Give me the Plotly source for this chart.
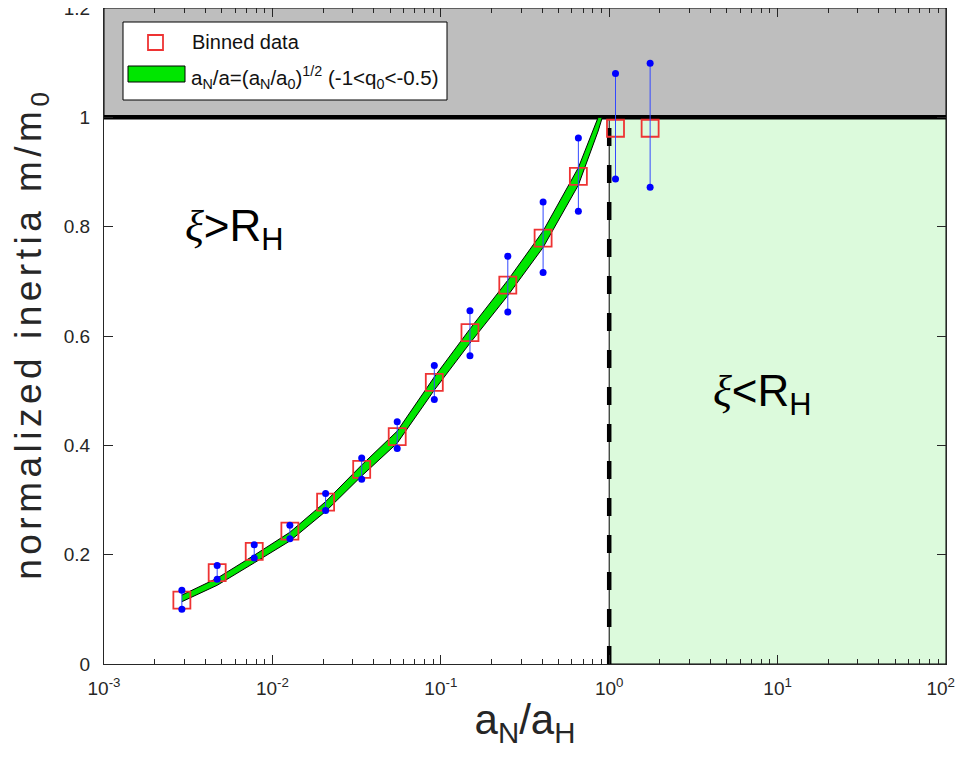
import plotly.graph_objects as go

# ---------------- data ----------------
# binned data (x = a_N/a_H, y = m/m0) with error-bar ends
bin_x = [0.0029, 0.0047, 0.0078, 0.0127, 0.0207, 0.0339, 0.0551, 0.0915,
         0.149, 0.250, 0.405, 0.656, 1.09, 1.75]
bin_y = [0.117, 0.167, 0.206, 0.243, 0.296, 0.356, 0.416, 0.515,
         0.606, 0.693, 0.779, 0.892, 0.980, 0.980]
bin_hi = [0.135, 0.180, 0.218, 0.254, 0.312, 0.377, 0.443, 0.546,
          0.646, 0.746, 0.845, 0.962, 1.080, 1.099]
bin_lo = [0.100, 0.155, 0.194, 0.229, 0.281, 0.338, 0.394, 0.484,
          0.564, 0.644, 0.716, 0.828, 0.887, 0.872]

# model band (-1 < q0 < -0.5)
band_x = [0.0029, 0.0047, 0.0078, 0.0127, 0.0207, 0.0339, 0.0551, 0.0915,
          0.149, 0.250, 0.405, 0.656, 0.86, 0.91]
band_upper = [0.126, 0.157, 0.199, 0.241, 0.297, 0.364, 0.426, 0.525,
              0.613, 0.702, 0.792, 0.908, 1.0, 1.0]
band_lower = [0.114, 0.144, 0.185, 0.225, 0.279, 0.344, 0.404, 0.501,
              0.587, 0.674, 0.762, 0.876, 0.975, 1.0]

# regions
x_min, x_max = 1e-3, 1e2
x_horizon = 1.0
y_horizon = 1.0
y_top = 1.2

x_tickvals = [1e-3, 1e-2, 1e-1, 1e0, 1e1, 1e2]
x_ticktext = ["10<sup>-3</sup>", "10<sup>-2</sup>", "10<sup>-1</sup>",
              "10<sup>0</sup>", "10<sup>1</sup>", "10<sup>2</sup>&nbsp;&nbsp;"]
y_tickvals = [0, 0.2, 0.4, 0.6, 0.8, 1.0, 1.2]
y_ticktext = ["0", "0.2", "0.4", "0.6", "0.8", "1", "1.2"]

FONT = "Liberation Sans, Arial, Helvetica, sans-serif"
RED = "#ee3333"
GREEN = "#00e600"

fig = go.Figure()

# grey region above m/m0 = 1
fig.add_trace(go.Scatter(
    x=[x_min, x_max, x_max, x_min, x_min],
    y=[y_horizon, y_horizon, y_top, y_top, y_horizon],
    mode="lines", fill="toself", fillcolor="#bebebe",
    line=dict(color="black", width=1), hoverinfo="skip"))

# light green region xi < R_H
fig.add_trace(go.Scatter(
    x=[x_horizon, x_max, x_max, x_horizon, x_horizon],
    y=[0, 0, y_horizon, y_horizon, 0],
    mode="lines", fill="toself", fillcolor="#dcfadc",
    line=dict(color="black", width=1), hoverinfo="skip"))

# thick line at m/m0 = 1
fig.add_trace(go.Scatter(
    x=[x_min, x_max], y=[y_horizon, y_horizon], mode="lines",
    line=dict(color="black", width=4.5), hoverinfo="skip"))

# dashed vertical line at a_N/a_H = 1
fig.add_trace(go.Scatter(
    x=[x_horizon, x_horizon], y=[0, y_horizon], mode="lines",
    line=dict(color="black", width=4.5, dash="18px,19px"), hoverinfo="skip"))

# model band
fig.add_trace(go.Scatter(
    x=band_x + band_x[::-1], y=band_upper + band_lower[::-1],
    mode="lines", fill="toself", fillcolor=GREEN,
    line=dict(color="black", width=1), hoverinfo="skip"))

# red open squares
fig.add_trace(go.Scatter(
    x=bin_x, y=bin_y, mode="markers",
    marker=dict(symbol="square-open", size=17, color=RED,
                line=dict(width=1.8, color=RED))))

# error bars
ex, ey = [], []
for xv, lo, hi in zip(bin_x, bin_lo, bin_hi):
    ex += [xv, xv, None]
    ey += [lo, hi, None]
fig.add_trace(go.Scatter(x=ex, y=ey, mode="lines",
                         line=dict(color="#3348ff", width=1), hoverinfo="skip"))
fig.add_trace(go.Scatter(x=bin_x + bin_x, y=bin_lo + bin_hi, mode="markers",
                         marker=dict(size=7, color="#0000ff"), hoverinfo="skip"))

# ---------------- layout ----------------
# page body has an 8px margin; figure is 948x746 placed at (8, 8)
OFF = 8
W, H = 948, 746
L, R, T, B = 96, 10, 0, 90
pw, ph = W - L - R, H - T - B


def px2paper(px, py):
    """reference-screenshot pixel -> paper coords"""
    fx, fy = px - OFF, py - OFF
    return (fx - L) / pw, (H - B - fy) / ph


shapes = []
# manual legend box
x0, y0 = px2paper(123, 22)
x1, y1 = px2paper(447, 100)
shapes.append(dict(type="rect", xref="paper", yref="paper", x0=x0, y0=y1, x1=x1, y1=y0,
                   fillcolor="white", line=dict(color="black", width=1), layer="above"))
x0, y0 = px2paper(148, 35)
x1, y1 = px2paper(163, 50)
shapes.append(dict(type="rect", xref="paper", yref="paper", x0=x0, y0=y1, x1=x1, y1=y0,
                   fillcolor="rgba(0,0,0,0)", line=dict(color=RED, width=1.8), layer="above"))
x0, y0 = px2paper(128, 66)
x1, y1 = px2paper(185, 82)
shapes.append(dict(type="rect", xref="paper", yref="paper", x0=x0, y0=y1, x1=x1, y1=y0,
                   fillcolor=GREEN, line=dict(color="black", width=1), layer="above"))

annotations = []
ax_, ay_ = px2paper(190, 42)
annotations.append(dict(text="Binned data", xref="paper", yref="paper", x=ax_, y=ay_,
                        xanchor="left", yanchor="middle", showarrow=False,
                        font=dict(family=FONT, size=20, color="#111111")))
ax_, ay_ = px2paper(189, 77)
annotations.append(dict(
    text="a<sub>N</sub>/a=(a<sub>N</sub>/a<sub>0</sub>)<sup>1/2</sup> (-1&lt;q<sub>0</sub>&lt;-0.5)",
    xref="paper", yref="paper", x=ax_, y=ay_, xanchor="left", yanchor="middle",
    showarrow=False, font=dict(family=FONT, size=20.5, color="#111111")))

XI = "<span style=\"font-family:'Liberation Serif', 'DejaVu Serif', serif\"><i>ξ</i></span>"
ax_, ay_ = px2paper(234, 229)
annotations.append(dict(text=XI + "&gt;R<sub>H</sub>", xref="paper", yref="paper",
                        x=ax_, y=ay_, xanchor="center", yanchor="middle", showarrow=False,
                        font=dict(family=FONT, size=44, color="black")))
ax_, ay_ = px2paper(762, 394)
annotations.append(dict(text=XI + "&lt;R<sub>H</sub>", xref="paper", yref="paper",
                        x=ax_, y=ay_, xanchor="center", yanchor="middle", showarrow=False,
                        font=dict(family=FONT, size=44, color="black")))

YTITLE = ('<span style="letter-spacing:4.5px">normalized inertia m/m</span>'
          '<sub>0</sub>')

fig.update_layout(
    width=W, height=H, autosize=False,
    margin=dict(l=L, r=R, t=T, b=B, pad=0, autoexpand=False),
    paper_bgcolor="white", plot_bgcolor="white",
    showlegend=False,
    font=dict(family=FONT, size=17, color="#262626"),
    shapes=shapes, annotations=annotations,
    xaxis=dict(
        type="log", range=[-3, 2], automargin=False,
        tickvals=x_tickvals, ticktext=x_ticktext,
        ticks="inside", ticklen=9, tickwidth=1, tickcolor="#262626",
        showline=True, linecolor="#262626", linewidth=1, mirror="allticks",
        showgrid=False, zeroline=False, ticklabeloverflow="allow",
        ticklabelstandoff=7,
        minor=dict(ticks="inside", ticklen=5, tickcolor="#262626", showgrid=False, dtick="D1"),
        tickfont=dict(family=FONT, size=19, color="#262626"),
        title=dict(text="a<sub>N</sub>/a<sub>H</sub>", standoff=6,
                   font=dict(family=FONT, size=42, color="#262626")),
    ),
    yaxis=dict(
        range=[0, 1.2], tickvals=y_tickvals, ticktext=y_ticktext, automargin=False,
        ticks="inside", ticklen=9, tickwidth=1, tickcolor="#262626",
        showline=True, linecolor="#262626", linewidth=1, mirror="allticks",
        showgrid=False, zeroline=False, ticklabeloverflow="allow",
        ticklabelstandoff=9,
        tickfont=dict(family=FONT, size=19, color="#262626"),
        title=dict(text=YTITLE, standoff=18,
                   font=dict(family=FONT, size=37, color="#262626")),
    ),
)

fig.write_html("out.html")
